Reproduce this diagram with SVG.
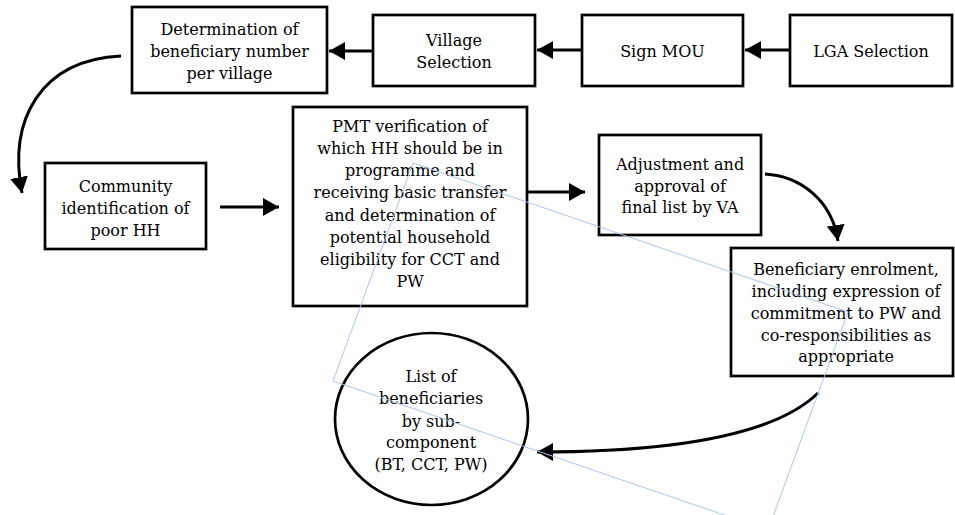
<svg xmlns="http://www.w3.org/2000/svg" width="955" height="515" viewBox="0 0 955 515">
<defs>
<style>
.box{fill:#fff;stroke:#000;stroke-width:2.7}
.t{font-family:"DejaVu Serif","Liberation Serif",serif;font-size:16px;fill:#000;text-anchor:middle}
.c{fill:none;stroke:#000;stroke-width:3}
</style>
<marker id="ah" markerUnits="userSpaceOnUse" markerWidth="17" markerHeight="18" refX="16" refY="9" orient="auto">
<path d="M0,0 L16,9 L0,18 z" fill="#000"/>
</marker>
</defs>
<rect width="955" height="515" fill="#fff"/>
<g id="n-determination">
<rect class="box" x="132" y="7" width="195" height="86"/>
<text class="t" x="229.5" y="35">Determination of</text>
<text class="t" x="229.5" y="57">beneficiary number</text>
<text class="t" x="229.5" y="79">per village</text>
</g>
<g id="n-village">
<rect class="box" x="373" y="15" width="162" height="71"/>
<text class="t" x="454" y="46">Village</text>
<text class="t" x="454" y="68">Selection</text>
</g>
<g id="n-mou">
<rect class="box" x="582" y="15" width="161" height="71"/>
<text class="t" x="662.5" y="57">Sign MOU</text>
</g>
<g id="n-lga">
<rect class="box" x="790" y="15" width="162" height="71"/>
<text class="t" x="871" y="57">LGA Selection</text>
</g>
<g id="n-community">
<rect class="box" x="45" y="163" width="161" height="86"/>
<text class="t" x="125.5" y="192">Community</text>
<text class="t" x="125.5" y="214">identification of</text>
<text class="t" x="125.5" y="236">poor HH</text>
</g>
<g id="n-pmt">
<rect class="box" x="293" y="107" width="234" height="199"/>
<text class="t" x="410" y="132">PMT verification of</text>
<text class="t" x="410" y="154">which HH should be in</text>
<text class="t" x="410" y="176">programme and</text>
<text class="t" x="410" y="198">receiving basic transfer</text>
<text class="t" x="410" y="221">and determination of</text>
<text class="t" x="410" y="243">potential household</text>
<text class="t" x="410" y="265">eligibility for CCT and</text>
<text class="t" x="410" y="287">PW</text>
</g>
<g id="n-adjust">
<rect class="box" x="599" y="135" width="162" height="100"/>
<text class="t" x="680" y="170">Adjustment and</text>
<text class="t" x="680" y="192">approval of</text>
<text class="t" x="680" y="213">final list by VA</text>
</g>
<g id="n-enrol">
<rect class="box" x="731" y="248" width="222" height="128"/>
<text class="t" x="846" y="275">Beneficiary enrolment,</text>
<text class="t" x="846" y="297">including expression of</text>
<text class="t" x="846" y="319">commitment to PW and</text>
<text class="t" x="846" y="341">co-responsibilities as</text>
<text class="t" x="846" y="362">appropriate</text>
</g>
<g id="n-list">
<ellipse class="box" cx="431.5" cy="419" rx="96.5" ry="86"/>
<text class="t" x="431" y="382">List of</text>
<text class="t" x="431" y="404">beneficiaries</text>
<text class="t" x="431" y="427">by sub-</text>
<text class="t" x="431" y="448">component</text>
<text class="t" x="431" y="470">(BT, CCT, PW)</text>
</g>
<g id="connectors">
<path class="c" d="M790,50 L745,50" marker-end="url(#ah)"/>
<path class="c" d="M582,50 L537,50" marker-end="url(#ah)"/>
<path class="c" d="M373,51 L329,51" marker-end="url(#ah)"/>
<path class="c" d="M121,56 C40,60 8,120 22,193" marker-end="url(#ah)"/>
<path class="c" d="M220,207 L279,207" marker-end="url(#ah)"/>
<path class="c" d="M528,192 L585,192" marker-end="url(#ah)"/>
<path class="c" d="M765,174 C800,176 832,200 838,241" marker-end="url(#ah)"/>
<path class="c" d="M818,393 C770,440 650,452 537,452" marker-end="url(#ah)"/>
</g>
<polygon points="413,163 848,312 768,530 333,381" fill="none" stroke="#a9c6ee" stroke-width="1"/>
</svg>
